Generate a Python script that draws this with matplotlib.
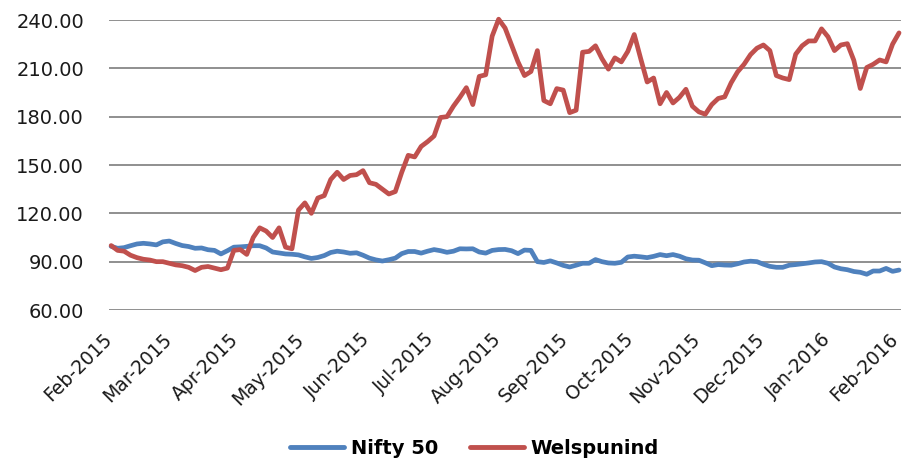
import matplotlib
matplotlib.use("Agg")
import matplotlib.pyplot as plt
import matplotlib.dates as mdates
import pandas as pd
import numpy as np

# Sampled every 3 calendar days from 2015-02-02
start_date = "2015-02-02"
n_points = 123

nifty_50 = [
    99.5, 98.3, 98.7, 99.9, 101.0, 101.4, 101.0, 100.4, 102.3, 102.8,
    101.3, 100.0, 99.4, 98.3, 98.5, 97.4, 97.0, 94.8, 96.8, 99.0,
    99.2, 99.5, 99.9, 99.9, 98.5, 96.0, 95.4, 94.8, 94.6, 94.2,
    93.0, 92.0, 92.6, 93.8, 95.7, 96.5, 96.0, 95.2, 95.5, 94.0,
    92.2, 91.1, 90.4, 91.2, 92.2, 95.0, 96.3, 96.3, 95.3, 96.5,
    97.5, 96.8, 95.8, 96.5, 98.0, 97.9, 98.0, 96.0, 95.3, 97.0,
    97.5, 97.6, 96.8, 95.0, 97.2, 97.0, 90.0, 89.5, 90.5, 89.2,
    87.7, 86.7, 87.8, 89.0, 89.0, 91.3, 90.0, 89.2, 89.0, 89.6,
    92.9, 93.4, 93.0, 92.5, 93.3, 94.4, 93.7, 94.4, 93.4, 91.8,
    91.0, 90.9, 89.3, 87.5, 88.2, 87.9, 87.8, 88.7, 89.8, 90.3,
    90.0, 88.4, 87.1, 86.5, 86.5, 87.8, 88.2, 88.7, 89.2, 89.8,
    90.0, 89.0, 86.7, 85.6, 85.0, 83.9, 83.4, 82.2, 84.2, 84.2,
    85.8, 84.0, 84.8,
]

welspunind = [
    100.0, 97.0, 96.5, 94.0, 92.5, 91.5, 91.0, 90.0, 90.0, 89.0,
    88.0, 87.5, 86.5, 84.5, 86.5, 87.0, 86.0, 85.0, 86.0, 97.0,
    97.5, 94.5, 105.0, 111.0, 109.0, 105.0, 111.0, 99.0, 98.0, 122.0,
    126.5, 120.0, 129.5, 131.0, 141.0, 145.5, 141.0, 143.5, 144.0, 146.5,
    139.0, 138.0, 135.0, 132.0, 133.5, 145.5, 156.0, 155.0, 161.5, 164.5,
    168.0, 179.5, 180.0, 186.5, 192.0, 198.0, 187.5, 205.0, 206.0, 230.0,
    240.5, 235.0, 224.5, 214.0, 205.5, 208.0, 221.0, 190.0, 188.0, 197.4,
    196.5, 182.5, 184.0, 220.0, 220.5, 224.0, 216.0, 209.5, 216.5, 214.0,
    220.5, 231.0, 216.0, 201.5, 204.0, 188.0, 195.0, 188.5, 192.0, 197.0,
    186.5, 183.0, 181.5, 187.5, 191.3, 192.3, 201.0, 207.8, 212.5, 218.5,
    222.5, 224.5, 221.0, 205.5, 204.0, 203.0, 218.8, 224.0, 227.0, 227.0,
    234.5, 229.6, 221.0, 224.5, 225.3, 215.0, 197.5, 210.5, 212.5, 215.2,
    214.0, 225.0, 232.0,
]

series_names = ["Nifty 50", "Welspunind"]
series_colors = ["#4F81BD", "#C0504D"]
y_ticks = [60, 90, 120, 150, 180, 210, 240]

dates = pd.date_range(start_date, periods=n_points, freq="3D")

fig = plt.figure(figsize=(9.02, 4.61), dpi=100)
ax = fig.add_axes([109 / 902, 1 - 310 / 461, (901 - 109) / 902, (310 - 20) / 461])

for vals, name, col in zip([nifty_50, welspunind], series_names, series_colors):
    ax.plot(dates, vals, color=col, lw=3.4, label=name, clip_on=False,
            solid_joinstyle="round", solid_capstyle="round", zorder=3)

ax.set_ylim(60, 240)
ax.set_yticks(y_ticks)
ax.yaxis.set_major_formatter(matplotlib.ticker.FuncFormatter(lambda v, p: f"{v:.2f}"))
ax.set_xlim(pd.Timestamp("2015-02-01"), pd.Timestamp("2016-02-03 22:00"))
ax.xaxis.set_major_locator(mdates.MonthLocator())
ax.xaxis.set_major_formatter(mdates.DateFormatter("%b-%Y"))

ax.grid(axis="y", color="#8f8f8f", lw=1.4, zorder=0)
ax.grid(axis="x", visible=False)
for s in ax.spines.values():
    s.set_visible(False)

ax.tick_params(axis="y", length=0, pad=18, labelsize=14, labelcolor="#1a1a1a")
ax.tick_params(axis="x", length=0, pad=19, labelsize=13.5, labelcolor="#1a1a1a")
for lbl in ax.get_xticklabels():
    lbl.set_rotation(45)
    lbl.set_ha("right")
    lbl.set_va("center")
    lbl.set_rotation_mode("anchor")

leg = fig.legend(loc="center", bbox_to_anchor=(0.526, 1 - 448 / 461), ncol=2,
                 frameon=False, prop={"weight": "bold", "size": 14},
                 handlelength=2.8, handletextpad=0.35, columnspacing=1.6)
for line in leg.get_lines():
    line.set_linewidth(3.5)

fig.savefig("out.png", dpi=100)
